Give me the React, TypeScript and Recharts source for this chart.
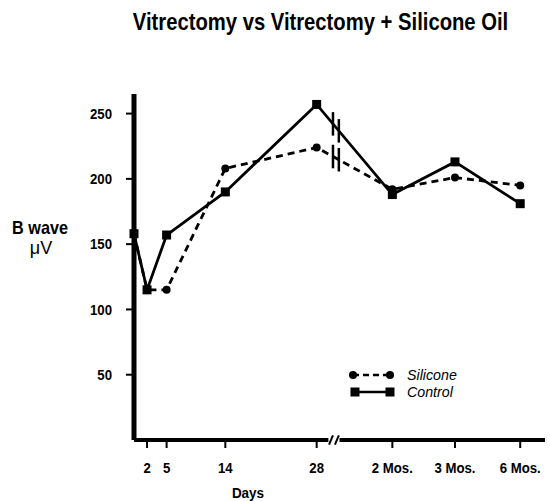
import { Line, LineChart, ReferenceArea, ReferenceLine, XAxis, YAxis } from "recharts";

const timeLabels = ["0", "2", "5", "14", "28", "2 Mos.", "3 Mos.", "6 Mos."];
// place on the drawn axis: days up to 28, then the part after the break
const timePos = [0, 2, 5, 14, 28, 39.6, 49.2, 59.2];
const silicone = [158, 115, 115, 208, 224, 192, 201, 195];
const control = [158, 115, 157, 190, 257, 188, 213, 181];
const yTicks = [50, 100, 150, 200, 250];
const breakPos = [30.5, 31.4];

const FONT = "'Liberation Sans', Arial, sans-serif";

const data = timePos.map((x, i) => ({
  x,
  silicone: silicone[i],
  control: control[i],
}));

// value of a series at the break, read along its line from 28 days to 2 months
const atBreak = (vals: number[], x: number) => {
  const t = (x - timePos[4]) / (timePos[5] - timePos[4]);
  return vals[4] + (vals[5] - vals[4]) * t;
};

const SquareDot = (props: any) => {
  const { cx, cy, index } = props;
  return <rect key={"s" + index} x={cx - 4.5} y={cy - 4.5} width={9} height={9} fill="#000" />;
};

const RoundDot = (props: any) => {
  const { cx, cy, index } = props;
  return <circle key={"c" + index} cx={cx} cy={cy} r={4} fill="#000" />;
};

// condensed look: squeeze the text horizontally around its anchor
const XTick = (props: any) => {
  const { x, y, payload } = props;
  const label = timeLabels[timePos.indexOf(payload.value)] ?? "";
  return (
    <g transform={`translate(${x},${y}) scale(0.88,1)`}>
      <text x={0} y={0} dy="0.71em" textAnchor="middle" fill="#000" fontFamily={FONT} fontWeight="bold" fontSize={15}>
        {label}
      </text>
    </g>
  );
};

const YTick = (props: any) => {
  const { x, y, payload } = props;
  return (
    <g transform={`translate(${x},${y}) scale(0.88,1)`}>
      <text x={0} y={0} dy="0.355em" textAnchor="end" fill="#000" fontFamily={FONT} fontWeight="bold" fontSize={15}>
        {payload.value}
      </text>
    </g>
  );
};

const Squeezed = ({ x, y, sx, anchor = "start", children, ...rest }: any) => (
  <g transform={`translate(${x},${y}) scale(${sx},1)`}>
    <text x={0} y={0} textAnchor={anchor} {...rest}>
      {children}
    </text>
  </g>
);

const Overlay = () => (
  <svg
    width={550}
    height={501}
    style={{ position: "absolute", left: 0, top: 0, pointerEvents: "none" }}
    fontFamily={FONT}
    fill="#000"
  >
    <Squeezed x={320.5} y={30} sx={0.88} anchor="middle" fontSize={23} fontWeight="bold">
      Vitrectomy vs Vitrectomy + Silicone Oil
    </Squeezed>
    <Squeezed x={40} y={234} sx={0.9} anchor="middle" fontSize={18} fontWeight="bold">
      B wave
    </Squeezed>
    <Squeezed x={41} y={254} sx={1} anchor="middle" fontSize={18}>
      μV
    </Squeezed>
    <Squeezed x={248} y={498} sx={0.9} anchor="middle" fontSize={15} fontWeight="bold">
      Days
    </Squeezed>
    <line x1={353} y1={375} x2={390} y2={375} stroke="#000" strokeWidth={2.5} strokeDasharray="6 4" />
    <circle cx={353} cy={375} r={4} />
    <circle cx={390} cy={375} r={4} />
    <line x1={355} y1={392} x2={390} y2={392} stroke="#000" strokeWidth={2.5} />
    <rect x={350.5} y={387.5} width={9} height={9} />
    <rect x={385.5} y={387.5} width={9} height={9} />
    <Squeezed x={407} y={380} sx={0.95} fontSize={15} fontStyle="italic">
      Silicone
    </Squeezed>
    <Squeezed x={407} y={397} sx={0.95} fontSize={15} fontStyle="italic">
      Control
    </Squeezed>
  </svg>
);

const App = () => {
  return (
    <div style={{ position: "absolute", left: 0, top: 0, width: 550, height: 501, background: "#fff" }}>
      <LineChart
        width={550}
        height={501}
        data={data}
        margin={{ top: 94, right: 5, bottom: 0, left: 74 }}
      >
        <XAxis
          dataKey="x"
          type="number"
          domain={[0, 63]}
          ticks={timePos.slice(1)}
          axisLine={false}
          tickLine={{ stroke: "#000", strokeWidth: 2 }}
          tickSize={8}
          tickMargin={14}
          height={61}
          tick={XTick}
        />
        <YAxis
          type="number"
          domain={[0, 265]}
          ticks={yTicks}
          width={60}
          axisLine={{ stroke: "#000", strokeWidth: 5 }}
          tickLine={{ stroke: "#000", strokeWidth: 2 }}
          tickSize={8}
          tickMargin={14}
          tick={YTick}
        />
        <Line
          dataKey="silicone"
          stroke="#000"
          strokeWidth={2.8}
          strokeDasharray="7 5"
          dot={RoundDot}
          activeDot={false}
          isAnimationActive={false}
        />
        <Line
          dataKey="control"
          stroke="#000"
          strokeWidth={2.8}
          dot={SquareDot}
          activeDot={false}
          isAnimationActive={false}
        />
        <ReferenceArea
          x1={breakPos[0] + 0.1}
          x2={breakPos[1] - 0.1}
          y1={200}
          y2={255}
          fill="#fff"
          fillOpacity={1}
          stroke="none"
          ifOverflow="visible"
        />
        {[silicone, control].flatMap((vals, k) =>
          breakPos.map((bx) => {
            const v = atBreak(vals, bx);
            return (
              <ReferenceLine
                key={k + "-" + bx}
                segment={[
                  { x: bx, y: v - 9 },
                  { x: bx, y: v + 9 },
                ]}
                stroke="#000"
                strokeWidth={2.5}
                ifOverflow="visible"
              />
            );
          })
        )}
        <ReferenceLine
          segment={[
            { x: 0, y: 0 },
            { x: 29.8, y: 0 },
          ]}
          stroke="#000"
          strokeWidth={4}
          ifOverflow="visible"
        />
        <ReferenceLine
          segment={[
            { x: 31.5, y: 0 },
            { x: 63, y: 0 },
          ]}
          stroke="#000"
          strokeWidth={4}
          ifOverflow="visible"
        />
        {breakPos.map((bx) => (
          <ReferenceLine
            key={"sl" + bx}
            segment={[
              { x: bx - 0.6, y: -3.5 },
              { x: bx, y: 3.5 },
            ]}
            stroke="#000"
            strokeWidth={2}
            ifOverflow="visible"
          />
        ))}
      </LineChart>
      <Overlay />
    </div>
  );
};

export default App;
